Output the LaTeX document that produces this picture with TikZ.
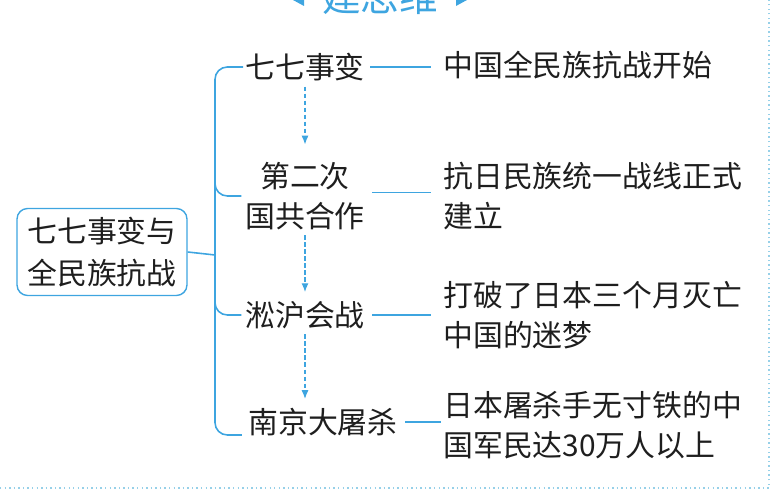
\documentclass[tikz,border=0pt]{standalone}
\usepackage{fontspec}
\newfontfamily\cjk{Noto Sans CJK SC}
\usetikzlibrary{arrows.meta,calc}
\definecolor{mapblue}{RGB}{62,165,224}
\definecolor{rimblue}{RGB}{150,208,232}
\definecolor{inkgray}{RGB}{30,30,30}
\tikzset{
  link/.style={mapblue, line width=0.9pt},
  flow/.style={mapblue, line width=0.7pt, dash pattern=on 2.5pt off 1.5pt, -{Latex[length=5pt,width=4pt]}, shorten <=3pt, shorten >=5pt},
  event/.style={inner sep=0pt, text=inkgray, align=center, font=\cjk\fontsize{17}{22.5}\selectfont},
  result/.style={event, anchor=west, align=left},
  topic/.style={draw=mapblue, line width=0.8pt, rounded corners=6pt, minimum width=3.4cm, minimum height=1.74cm, align=center, text=inkgray, font=\cjk\fontsize{17}{23.8}\selectfont}
}
\begin{document}
\begin{tikzpicture}[x=0.02cm, y=-0.02cm]
\useasboundingbox (0,0) rectangle (778,492);
%----------------- title strip -----------------
\node[mapblue, font=\cjk\fontsize{22}{22}\selectfont, anchor=base] (title) at (380,12) {建思维};
\fill[mapblue] (293,0) -- (304,-6) -- (304,6) -- cycle;
\fill[mapblue] (467,0) -- (456,-6) -- (456,6) -- cycle;
% page rim
\draw[rimblue, line width=1.4pt, dash pattern=on 0.8pt off 1.8pt] (0,488) -- (769,488) -- (769,0);
%----------------- topic and events -----------------
\node[topic] (root) at (102,252) {七七事变与\\全民族抗战};
\node[event] (n1) at (305,67) {七七事变};
\node[event] (n2) at (305,196) {第二次\\国共合作};
\node[event] (n3) at (305,315) {淞沪会战};
\node[event] (n4) at (323,422) {南京大屠杀};
% meanings
\node[result] (r1) at (443,65) {中国全民族抗战开始};
\node[result] (r2) at (443,196) {抗日民族统一战线正式\\建立};
\node[result] (r3) at (443,315) {打破了日本三个月灭亡\\中国的迷梦};
\node[result] (r4) at (443,425) {日本屠杀手无寸铁的中\\国军民达30万人以上};
%----------------- bracket -----------------
\coordinate (fork) at (215,255);
\draw[link] (root.east) -- (fork);
\draw[link, rounded corners=7pt] ([xshift=-1pt]n1.west) -| (fork) |- ($(n4.west)+(-6,13)$);
\draw[link, rounded corners=7pt] ($(fork |- n2.west)+(0,-14)$) |- ([xshift=-2pt]n2.west);
\draw[link, rounded corners=7pt] ($(fork |- n3.west)+(0,-14)$) |- ([xshift=-2pt]n3.west);
% event -- meaning
\draw[link, shorten <=3pt, shorten >=7pt] (n1.east) -- (n1.east -| r1.west);
\draw[link, shorten <=4pt, shorten >=7pt] ([yshift=2pt]n2.east) -- ([yshift=2pt]n2.east -| r2.west);
\draw[link, shorten <=4pt, shorten >=7pt] (n3.east) -- (n3.east -| r3.west);
\draw[link, shorten <=4pt, shorten >=1pt] (n4.east) -- (n4.east -| r4.west);
% sequence
\draw[flow, shorten >=10pt] (n1.south) -- (n2.north);
\draw[flow] (n2.south) -- (n3.north);
\draw[flow] (n3.south) -- (n3.south |- n4.north);
\end{tikzpicture}
\end{document}
